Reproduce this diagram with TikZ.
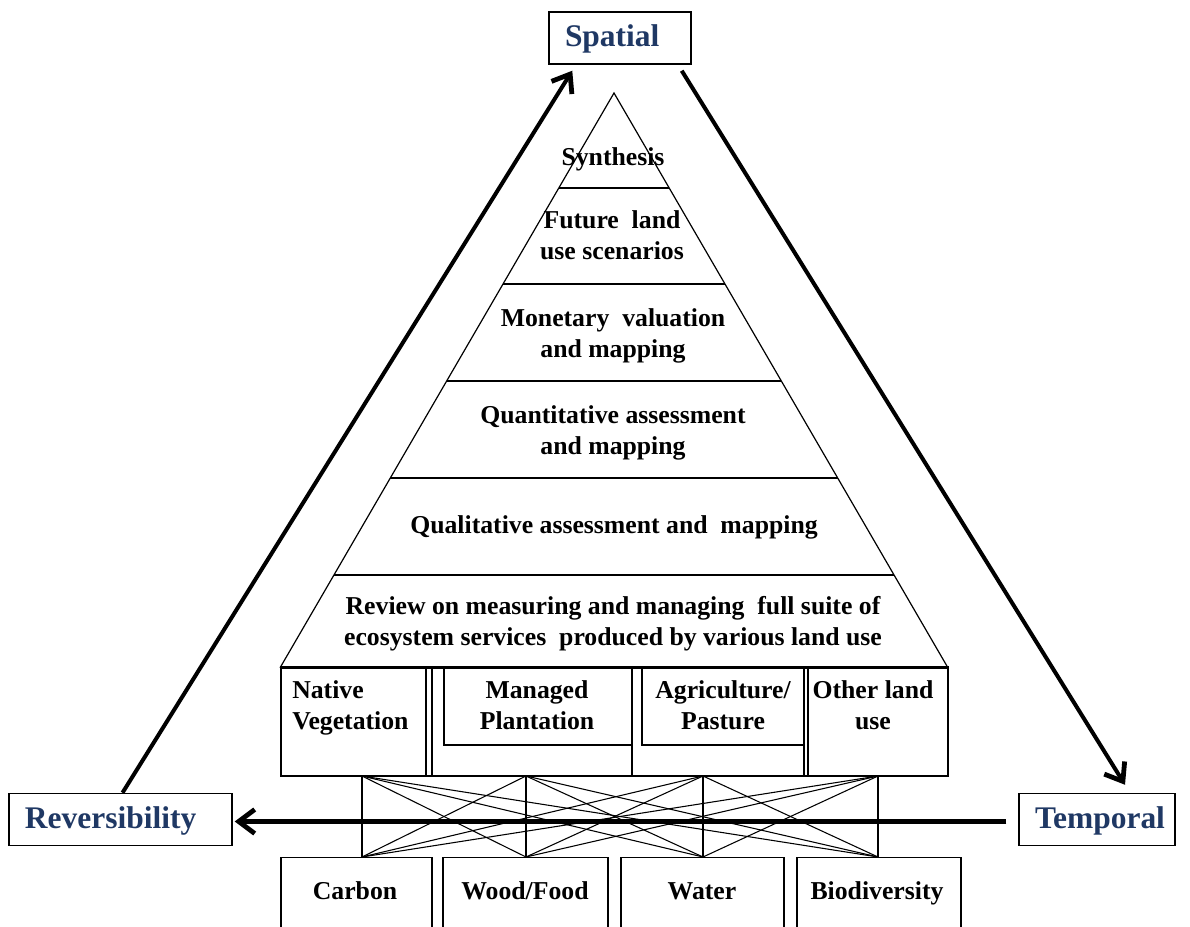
\documentclass[tikz,border=0pt]{standalone}
\usepackage{fontspec}
\setmainfont{Liberation Serif}
\usetikzlibrary{arrows.meta,calc}
\definecolor{axisblue}{HTML}{1F3864}
\begin{document}
\begin{tikzpicture}[x=0.75pt,y=-0.75pt,
  lvl/.style={font=\fontsize{19.3}{23.2}\selectfont\bfseries, align=center, inner sep=0pt,
    execute at begin node=\strut, execute at end node=\strut},
  axisbox/.style={draw, line width=1.1pt, font=\fontsize{23.6}{28}\selectfont\bfseries,
    text=axisblue, align=left, inner xsep=12pt, inner ysep=0pt, minimum height=39pt,
    execute at begin node={\rule[-7.2pt]{0pt}{27.2pt}}},
  svcbox/.style={draw, line width=0.9pt, anchor=north, minimum height=78pt, inner sep=0pt},
  thinline/.style={line width=0.8pt},
  bigarrow/.style={line width=3pt, -{Straight Barb[length=12pt,width=18pt,line width=3.6pt]}},
]
\useasboundingbox (0,0) rectangle (1190,927);

% ---- pyramid of assessment levels ----
\coordinate (apex) at (614,93);
\coordinate (bl) at (280.5,667);
\coordinate (br) at (947.5,667);
\draw[line width=0.9pt] (apex) -- (bl) -- (br) -- cycle;
\foreach \t in {0.1655,0.3328,0.5017,0.6707,0.8397}
  \draw[thinline] ($(apex)!\t!(bl)$) -- ($(apex)!\t!(br)$);

\node[lvl] (synth) at (613,159) {Synthesis};
\node[lvl] (future) at (612,240) {Future~ land\\use scenarios};
\node[lvl] (money) at (613,337.5) {Monetary~ valuation\\and mapping};
\node[lvl] (quant) at (613,434.5) {Quantitative assessment\\and mapping};
\node[lvl] (qual) at (614,527) {Qualitative assessment and~ mapping};
\node[lvl] (review) at (613,625.5) {Review on measuring and managing~ full suite of\\ecosystem services~ produced by various land use};

% ---- land use row ----
\node[draw, line width=1.1pt, minimum width=500.25pt, minimum height=81pt, inner sep=0pt]
  (landrow) at (614.5,722) {};
\draw[line width=1.6pt] (landrow.north west) -- (landrow.north east);
\foreach \x in {426,432,632,804,808}
  \draw[thinline] (\x,668) -- (\x,776);
\draw[thinline] (444,668) rectangle (632,745);
\draw[thinline] (642,668) rectangle (804,745);

\node[lvl, align=left, anchor=west] (native) at (292,709.5) {Native\\Vegetation};
\node[lvl] (managed) at (537,709.5) {Managed\\Plantation};
\node[lvl] (agri) at (723,710) {Agriculture/\\Pasture};
\node[lvl] (other) at (873,710) {Other land\\use};

% ---- ecosystem service boxes ----
\node[svcbox, minimum width=113.25pt] (carbonbox) at (356.5,857) {};
\node[svcbox, minimum width=123.75pt] (woodbox) at (525.5,857) {};
\node[svcbox, minimum width=122.25pt] (waterbox) at (702.5,857) {};
\node[svcbox, minimum width=123pt] (biobox) at (879,857) {};
\node[lvl] (carbon) at (355,893) {Carbon};
\node[lvl] (wood) at (525,893) {Wood/Food};
\node[lvl] (water) at (702,893) {Water};
\node[lvl] (bio) at (877,893) {Biodiversity};

% ---- links between every land use and every service ----
\coordinate (t1) at (362,776); \coordinate (b1) at (362,857);
\coordinate (t2) at (526,776); \coordinate (b2) at (526,857);
\coordinate (t3) at (703,776); \coordinate (b3) at (703,857);
\coordinate (t4) at (878,776); \coordinate (b4) at (878,857);
\foreach \i in {1,...,4}
  \foreach \j in {1,...,4}
    \draw[thinline] (t\i) -- (b\j);

% ---- dimension boxes and arrows ----
\node[axisbox, text width=82.5pt] (spatial) at (620,38) {Spatial};
\node[axisbox, text width=143.25pt] (revers) at (120.5,819.5) {Reversibility};
\node[axisbox, text width=93pt] (temporal) at (1097,819.5) {Temporal};

\coordinate (spin) at ($(spatial.south west)+(24,6)$);
\coordinate (spout) at ($(spatial.south east)+(-10,6)$);
\coordinate (tmpin) at ($(temporal.north)+(28,-8)$);
\coordinate (revfoot) at ($(revers.north)+(2,0)$);
\draw[bigarrow] (revfoot) -- (spin);
\draw[bigarrow] (spout) -- (tmpin);
\draw[bigarrow, line width=3.4pt, shorten >=1.5pt] ($(temporal.west)+(-12,2)$) -- ($(revers.east)+(0,2)$);
\end{tikzpicture}
\end{document}
